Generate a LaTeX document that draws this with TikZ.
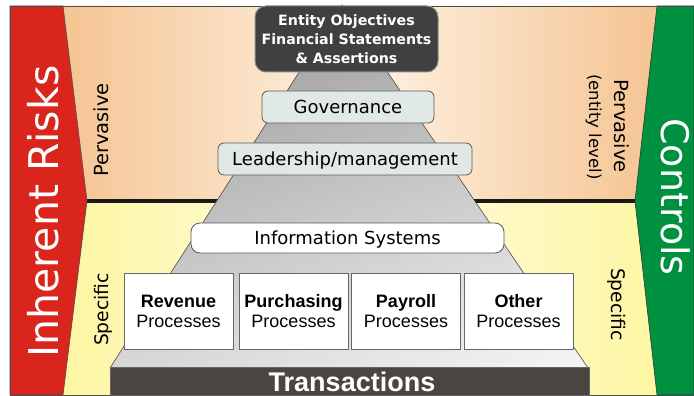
\documentclass[tikz,border=0pt]{standalone}
\usepackage{fontspec}
\setmainfont{DejaVu Sans}
\newfontfamily\arialf{Liberation Sans}
\definecolor{riskred}{RGB}{218,37,29}
\definecolor{ctrlgreen}{RGB}{0,145,64}
\definecolor{peachedge}{RGB}{245,196,146}
\definecolor{peachmid}{RGB}{254,242,228}
\definecolor{yellowedge}{RGB}{252,246,162}
\definecolor{yellowmid}{RGB}{255,252,228}
\definecolor{entitydark}{RGB}{62,64,66}
\definecolor{levelfill}{RGB}{224,233,230}
\definecolor{barfill}{RGB}{74,69,64}
\tikzset{
  levelbox/.style={draw=black!65, line width=0.8pt, fill=levelfill, rounded corners=6pt,
    inner sep=0pt, text height=13pt, text depth=0pt, font=\fontsize{18}{20}\selectfont},
  procbox/.style={draw=black!60, line width=0.8pt, fill=white, minimum width=109pt,
    minimum height=76pt, inner sep=0pt, align=center, font=\arialf\fontsize{18}{20}\selectfont},
  sidelabel/.style={anchor=base, font=\fontsize{19.5}{20}\selectfont},
  bandlabel/.style={anchor=base, text=white},
}
\begin{document}
\begin{tikzpicture}[x=1pt,y=-1pt]
\useasboundingbox (0,0) rectangle (694,396);
% backgrounds
\shade[left color=peachedge, right color=peachedge, middle color=peachmid]
  (63,6) -- (657,6) -- (635,201) -- (87,201) -- cycle;
\shade[left color=yellowedge, right color=yellowedge, middle color=yellowmid]
  (87,201) -- (635,201) -- (657,395) -- (63,395) -- cycle;
% divider
\draw[line width=4pt, black!90] (80,201) -- (640,201);
% pyramid
\shade[top color=gray!70, middle color=gray!60, bottom color=gray!8]
  (342,5) -- (588,368) -- (110,368) -- cycle;
\shade[left color=black, right color=white, opacity=0.12]
  (342,5) -- (588,368) -- (110,368) -- cycle;
\draw[black!70, line width=0.6pt] (342,5) -- (588,368) -- (110,368) -- cycle;
% side bands
\filldraw[fill=riskred, draw=black!70, line width=0.6pt]
  (10,6) -- (63,6) -- (87,201) -- (63,395) -- (10,395) -- cycle;
\filldraw[fill=ctrlgreen, draw=black!80, line width=0.6pt]
  (657,6) -- (694,6) -- (694,395) -- (657,395) -- (635,201) -- cycle;
% frame
\draw[black!70, line width=0.8pt] (694,6) -- (10,6) -- (10,395) -- (694,395);
% band labels
\node[bandlabel, rotate=90, font=\fontsize{41}{41}\selectfont] (risks) at (58,211.5) {Inherent Risks};
\node[bandlabel, rotate=-90, font=\fontsize{38}{38}\selectfont] (controls) at (661,197) {Controls};
% side labels
\node[sidelabel, rotate=90] (pervL) at (108,130) {Pervasive};
\node[sidelabel, rotate=-90] (pervR) at (614,126) {Pervasive};
\node[anchor=base, rotate=-90, font=\fontsize{16.5}{17}\selectfont] (entlvl) at (589,127) {(entity level)};
\node[sidelabel, rotate=90, font=\fontsize{18.7}{20}\selectfont] (specL) at (108,309.5) {Specific};
\node[sidelabel, rotate=-90, font=\fontsize{18.7}{20}\selectfont] (specR) at (611,304.5) {Specific};
% pyramid levels
\node[draw=black!45, line width=1pt, fill=entitydark, rounded corners=11pt, minimum width=183pt,
  minimum height=66pt, text=white, align=center, inner sep=0pt,
  font=\bfseries\fontsize{14.2}{19}\selectfont] (entity) at (346.5,39)
  {Entity Objectives\\Financial Statements\\\& Assertions};
\node[levelbox, minimum width=172pt, minimum height=32pt] (gov) at (348,107) {Governance};
\node[levelbox, minimum width=254pt, minimum height=32pt] (lead) at (345,159) {Leadership/management};
\node[levelbox, fill=white, rounded corners=9pt, minimum width=313pt, minimum height=30pt] (info) at (347.5,238) {Information Systems};
% processes
\node[procbox] (rev) at (178.5,311) {\textbf{Revenue}\\Processes};
\node[procbox] (pur) at (293.5,311) {\textbf{Purchasing}\\Processes};
\node[procbox] (pay) at (406,311) {\textbf{Payroll}\\Processes};
\node[procbox] (oth) at (518.5,311) {\textbf{Other}\\Processes};
% transactions
\node[fill=barfill, draw=black!60, line width=0.6pt, minimum width=479pt, minimum height=28pt,
  inner sep=0pt, anchor=north west] (bar) at (110,367) {};
\node[anchor=base, text=white, font=\arialf\bfseries\fontsize{27}{27}\selectfont] (trans) at (352,391) {Transactions};
\end{tikzpicture}
\end{document}
